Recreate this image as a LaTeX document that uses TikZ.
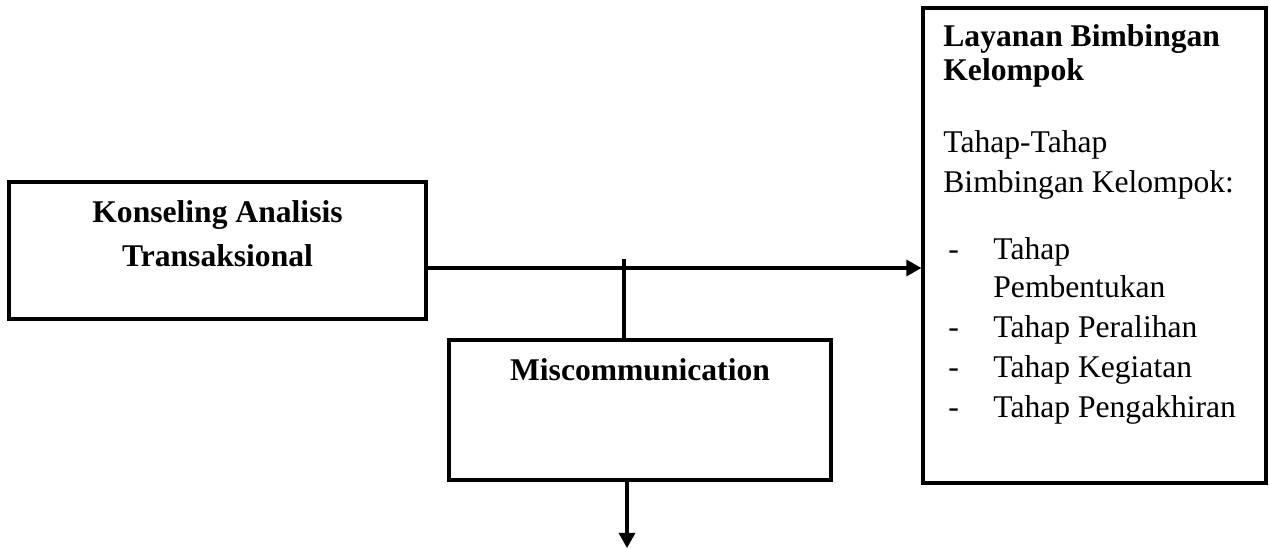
\documentclass[tikz,border=0pt]{standalone}
\usepackage{fontspec}
\setmainfont{Liberation Serif}
\usetikzlibrary{arrows.meta}
\tikzset{
  kotak/.style={draw=black, line width=1.6pt, inner sep=0pt},
  teks/.style={inner sep=0pt, anchor=base west, font=\fontsize{15.8pt}{20pt}\selectfont},
  judul/.style={inner sep=0pt, anchor=base, font=\fontsize{15.8pt}{20pt}\selectfont\bfseries},
  garis/.style={line width=1.6pt},
  panah/.style={line width=1.6pt, -{Triangle[length=7.5pt,width=8pt]}}
}

\begin{document}
\begin{tikzpicture}[x=0.5pt,y=-0.5pt]
  \useasboundingbox (0,0) rectangle (1269,549);

	%# KOTAK KONSELING
  \node[kotak, minimum width=208.5pt, minimum height=68.5pt] (kat) at (217.5,250.5) {};
  \node[judul] (katA) at (217.5,223) {Konseling Analisis};
  \node[judul] (katB) at (217.5,267) {Transaksional};

	%# KOTAK MISCOMMUNICATION
  \node[kotak, minimum width=191pt, minimum height=70pt] (misc) at (640,410) {};
  \node[judul] (miscA) at (640,381) {Miscommunication};

	%# KOTAK LAYANAN
  \node[kotak, minimum width=171.5pt, minimum height=237.5pt] (lbk) at (1094.5,245.5) {};
  \node[judul, anchor=base west] (lbkA) at (943,47) {Layanan Bimbingan};
  \node[judul, anchor=base west] (lbkB) at (943,81) {Kelompok};
  \node[teks] (lbkC) at (943,153) {Tahap-Tahap};
  \node[teks] (lbkD) at (943,193) {Bimbingan Kelompok:};

	%#TAHAP-TAHAP
  \node[teks] (d1) at (948,260) {-};
  \node[teks] (t1) at (993,260) {Tahap};
  \node[teks] (t1b) at (993,298) {Pembentukan};
  \node[teks] (d2) at (948,338) {-};
  \node[teks] (t2) at (993,338) {Tahap Peralihan};
  \node[teks] (d3) at (948,378) {-};
  \node[teks] (t3) at (993,378) {Tahap Kegiatan};
  \node[teks] (d4) at (948,418) {-};
  \node[teks] (t4) at (993,418) {Tahap Pengakhiran};

	%# GARIS PENGHUBUNG
  \coordinate (cabang) at (624,268);
  \coordinate (atas) at (624,259);
  \coordinate (bawah) at (627,548);
  \draw[panah] (kat.east |- cabang) -- (lbk.west |- cabang);
  \draw[garis] (atas) -- (misc.north -| atas);
  \draw[panah] (misc.south -| bawah) -- (bawah);
\end{tikzpicture}
\end{document}
